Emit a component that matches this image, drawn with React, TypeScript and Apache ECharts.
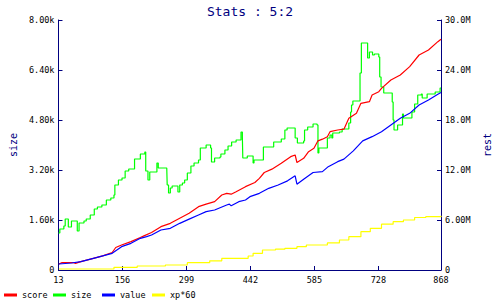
import React, { useEffect, useRef } from "react";
import * as echarts from "echarts";

const xTicks = [13, 156, 299, 442, 585, 728, 868];

// size (left axis), [x, size]
const sizeData: [number, number][] = [
  [13, 1184], [16, 1312], [25, 1408], [28, 1632], [35, 1376], [42, 1568], [55, 1248], [59, 1504],
  [70, 1568], [75, 1632], [84, 1760], [93, 1952], [100, 2016], [110, 2080], [120, 2240], [130, 2304],
  [137, 2400], [139, 2720], [147, 2880], [155, 2944], [162, 3168], [170, 3232], [183, 3552], [196, 3712],
  [206, 3776], [208, 3168], [213, 2880], [217, 3136], [231, 3136], [233, 3424], [236, 3264], [255, 3264],
  [256, 2720], [259, 2464], [263, 2624], [267, 2688], [278, 2688], [280, 2496], [284, 2720], [290, 2784],
  [295, 2880], [301, 3104], [309, 3328], [316, 3424], [326, 3520], [330, 3904], [343, 4000], [353, 3904],
  [355, 3456], [362, 3584], [374, 3616], [376, 3712], [385, 3840], [392, 3968], [400, 4096], [410, 4160],
  [421, 4416], [424, 4256], [425, 3584], [435, 3648], [448, 3424], [450, 3520], [469, 3520], [471, 3936],
  [490, 3936], [494, 4096], [511, 4192], [519, 4480], [524, 4544], [540, 4544], [542, 4224], [547, 4064],
  [561, 4128], [563, 4480], [570, 4576], [582, 4672], [591, 4640], [593, 3744], [595, 3904], [614, 4224],
  [620, 4320], [624, 4224], [626, 4384], [641, 4416], [647, 4512], [662, 4704], [666, 5056], [668, 5280],
  [671, 5408], [687, 6304], [690, 7264], [702, 7264], [704, 6784], [708, 6976], [715, 6880], [719, 6912],
  [729, 6816], [731, 6176], [734, 5856], [740, 5664], [757, 5664], [759, 5376], [761, 4800], [763, 4480],
  [771, 4640], [782, 4992], [784, 4864], [803, 5056], [809, 5312], [816, 5600], [824, 5632], [826, 5504],
  [837, 5632], [855, 5696], [866, 5824], [868, 5824],
];

// score (right axis), [x, value]
const scoreData: [number, number][] = [
  [14, 0.72e6], [21, 0.88e6], [47, 0.88e6], [51, 0.8e6], [63, 1.0e6], [91, 1.4e6], [112, 1.7e6],
  [133, 2.1e6], [141, 2.7e6], [154, 3.0e6], [175, 3.4e6], [196, 3.9e6], [204, 4.1e6], [221, 4.5e6],
  [242, 5.2e6], [263, 5.6e6], [284, 6.2e6], [305, 6.8e6], [326, 7.6e6], [343, 7.9e6], [362, 8.2e6],
  [378, 9.0e6], [389, 9.2e6], [399, 9.1e6], [410, 9.4e6], [431, 10.0e6], [452, 10.5e6], [462, 11.0e6],
  [473, 11.7e6], [490, 12.1e6], [511, 12.8e6], [532, 13.6e6], [542, 13.8e6], [546, 12.9e6], [561, 13.4e6],
  [572, 14.2e6], [584, 14.6e6], [593, 15.5e6], [603, 15.7e6], [614, 16.0e6], [620, 16.6e6], [637, 16.8e6],
  [651, 16.9e6], [662, 18.2e6], [679, 18.8e6], [689, 20.0e6], [708, 20.2e6], [714, 21.0e6], [729, 21.4e6],
  [735, 21.8e6], [756, 22.8e6], [777, 23.4e6], [798, 24.4e6], [819, 25.8e6], [840, 26.4e6], [861, 27.4e6],
  [868, 27.7e6],
];

// value (right axis), [x, value]
const valueData: [number, number][] = [
  [14, 0.72e6], [42, 0.84e6], [63, 1.0e6], [91, 1.4e6], [112, 1.7e6], [133, 2.0e6], [154, 2.8e6],
  [175, 3.2e6], [196, 3.8e6], [210, 4.0e6], [221, 4.2e6], [242, 4.8e6], [263, 5.0e6], [284, 5.6e6],
  [305, 6.1e6], [326, 6.6e6], [343, 7.0e6], [362, 7.2e6], [389, 7.8e6], [395, 7.9e6], [399, 7.7e6],
  [416, 8.2e6], [431, 8.4e6], [441, 8.8e6], [462, 9.2e6], [483, 9.8e6], [504, 10.2e6], [525, 10.7e6],
  [542, 11.3e6], [546, 10.3e6], [561, 10.9e6], [582, 11.7e6], [603, 11.8e6], [616, 12.4e6], [637, 13.0e6],
  [651, 13.3e6], [672, 14.3e6], [693, 15.5e6], [714, 16.0e6], [735, 16.6e6], [756, 17.4e6], [777, 18.2e6],
  [798, 18.8e6], [819, 19.8e6], [840, 20.4e6], [861, 21.1e6], [868, 21.3e6],
];

// xp*60 (right axis), [x, value]
const xpData: [number, number][] = [
  [14, 0.12e6], [137, 0.32e6], [189, 0.48e6], [252, 0.6e6], [301, 0.88e6], [351, 1.1e6], [378, 1.4e6],
  [437, 1.68e6], [448, 2.0e6], [469, 2.4e6], [498, 2.5e6], [519, 2.6e6], [546, 2.8e6], [567, 3.0e6],
  [614, 3.25e6], [641, 3.6e6], [662, 4.0e6], [689, 4.6e6], [710, 5.0e6], [735, 5.5e6], [761, 5.8e6],
  [784, 6.0e6], [809, 6.3e6], [834, 6.4e6], [868, 6.5e6],
];

const NAVY = "#000080";
const MONO = "'DejaVu Sans Mono', 'Liberation Mono', monospace";

const fmt = (suffix: string, div: number) => (v: number) =>
  v === 0 ? "0" : (v / div).toPrecision(3) + suffix;

export default function App() {
  const ref = useRef<HTMLDivElement>(null);
  useEffect(() => {
    if (!ref.current) return;
    const chart = echarts.init(ref.current, undefined, { renderer: "svg" });
    const labelStyle = { color: "#000", fontFamily: MONO, fontSize: 8.5 };
    const legendBase = (name: string, left: number) => ({
      data: [name],
      left,
      top: 289,
      padding: 0,
      icon: "rect",
      itemWidth: 13,
      itemHeight: 3,
      textStyle: { color: "#000", fontFamily: MONO, fontSize: 8.5, lineHeight: 12 },
    });
    chart.setOption({
      animation: false,
      backgroundColor: "#fff",
      title: {
        text: "Stats : 5:2",
        left: "center",
        top: 0,
        textStyle: { color: NAVY, fontFamily: MONO, fontSize: 13, fontWeight: "normal" },
      },
      legend: [
        legendBase("score", 4),
        legendBase("size", 53),
        legendBase("value", 102),
        legendBase("xp*60", 152),
      ],
      grid: { left: 46, right: 47, top: 20, bottom: 30, containLabel: false },
      xAxis: {
        type: "value",
        min: 13,
        max: 868,
        axisLine: { show: true, lineStyle: { color: NAVY, width: 1 } },
        axisTick: { show: true, inside: true, length: 4, lineStyle: { color: NAVY }, customValues: xTicks },
        axisLabel: { ...labelStyle, margin: 5, customValues: xTicks, formatter: (v: number) => String(v) },
        splitLine: { show: false },
      },
      yAxis: [
        {
          type: "value",
          min: 0,
          max: 8000,
          interval: 1600,
          name: "size",
          nameLocation: "middle",
          nameRotate: 90,
          nameGap: 37,
          nameTextStyle: { color: NAVY, fontFamily: MONO, fontSize: 10 },
          axisLine: { show: true, lineStyle: { color: NAVY, width: 1 } },
          axisTick: { show: true, inside: true, length: 4, lineStyle: { color: NAVY } },
          axisLabel: { ...labelStyle, margin: 4, formatter: fmt("k", 1000) },
          splitLine: { show: false },
        },
        {
          type: "value",
          min: 0,
          max: 30e6,
          interval: 6e6,
          position: "right",
          name: "rest",
          nameLocation: "middle",
          nameRotate: 90,
          nameGap: 41,
          nameTextStyle: { color: NAVY, fontFamily: MONO, fontSize: 10 },
          axisLine: { show: true, lineStyle: { color: NAVY, width: 1 } },
          axisTick: { show: true, inside: true, length: 4, lineStyle: { color: NAVY } },
          axisLabel: { ...labelStyle, margin: 4, formatter: fmt("M", 1e6) },
          splitLine: { show: false },
        },
      ],
      series: [
        {
          name: "score",
          type: "line",
          yAxisIndex: 1,
          data: scoreData,
          showSymbol: false,
          color: "#ff0000",
          lineStyle: { width: 1.2 },
          z: 3,
        },
        {
          name: "size",
          type: "line",
          yAxisIndex: 0,
          data: sizeData,
          step: "end",
          showSymbol: false,
          color: "#00ff00",
          lineStyle: { width: 1.2 },
          z: 2,
        },
        {
          name: "value",
          type: "line",
          yAxisIndex: 1,
          data: valueData,
          showSymbol: false,
          color: "#0000ff",
          lineStyle: { width: 1.2 },
          z: 4,
        },
        {
          name: "xp*60",
          type: "line",
          yAxisIndex: 1,
          data: xpData,
          step: "end",
          showSymbol: false,
          color: "#ffff00",
          lineStyle: { width: 1.2 },
          z: 1,
        },
      ],
    });
    return () => chart.dispose();
  }, []);
  return (
    <div
      ref={ref}
      style={{ position: "fixed", left: 0, top: 0, width: 500, height: 300, background: "#fff" }}
    />
  );
}
